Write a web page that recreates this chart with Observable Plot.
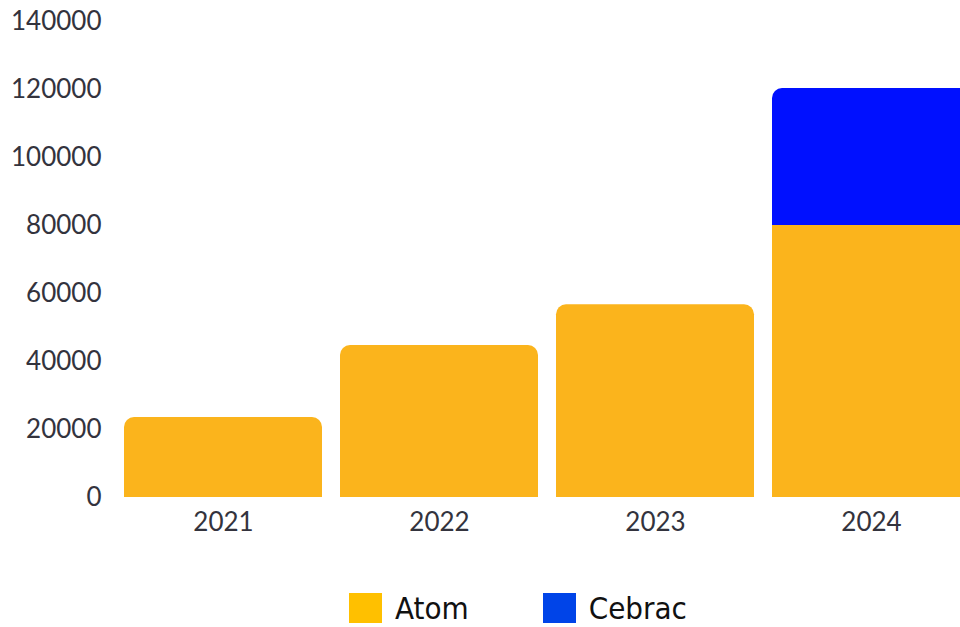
<!DOCTYPE html>
<html>
<head>
<meta charset="utf-8">
<script src="https://cdn.jsdelivr.net/npm/d3@7"></script>
<script src="https://cdn.jsdelivr.net/npm/@observablehq/plot@0.6"></script>
<style>
  html, body { margin: 0; padding: 0; background: #fff; overflow: hidden; width: 960px; height: 627px; }
  #chart { width: 960px; overflow: hidden; }
  #chart svg { display: block; max-width: none !important; }
  .legend { display: flex; align-items: center; margin-left: 349px; margin-top: 30px;
    font-family: "DejaVu Sans Condensed", "DejaVu Sans", sans-serif; font-size: 31px; color: #111; }
  .legend .item { display: flex; align-items: center; }
  .legend .sw { width: 33px; height: 30px; margin-right: 13px; }
</style>
</head>
<body>
<div id="chart"></div>
<div class="legend" id="legend"></div>
<script>
const years = ["2021", "2022", "2023", "2024"];
const seriesNames = ["Atom", "Cebrac"];
const atom = [23500, 44700, 56700, 80000];
const cebrac = [0, 0, 0, 40300];
const yTicks = [0, 20000, 40000, 60000, 80000, 100000, 120000, 140000];
const barColors = ["#FBB41C", "#0010FF"];
const legendColors = ["#FFC000", "#0044E8"];

// build stacked rows
const rows = [];
years.forEach((yr, i) => {
  let base = 0;
  const vals = [atom[i], cebrac[i]];
  const last = vals.reduce((acc, v, k) => (v > 0 ? k : acc), -1);
  vals.forEach((v, k) => {
    if (v <= 0) return;
    rows.push({year: yr, series: seriesNames[k], y1: base, y2: base + v, mid: base + v / 2, top: k === last});
    base += v;
  });
});

const chart = Plot.plot({
  width: 990,
  height: 560,
  marginLeft: 114,
  marginRight: 9,
  marginTop: 21,
  marginBottom: 63,
  style: {fontFamily: "Lato, sans-serif", fontSize: "26px", color: "#33333d", background: "#fff", maxWidth: "none"},
  x: {domain: years, type: "band", paddingInner: 0.083, paddingOuter: 0.04, round: true, label: null, tickSize: 0, tickPadding: 15},
  y: {domain: [0, 140000], ticks: yTicks, tickFormat: d => String(d), label: null, tickSize: 0, tickPadding: 13},
  color: {domain: seriesNames, range: barColors},
  marks: [
    // top segments: rounded
    Plot.barY(rows.filter(d => d.top), {x: "year", y1: "y1", y2: "y2", fill: "series", rx: 10}),
    // square off bottom corners of rounded segments
    Plot.barY(rows.filter(d => d.top), {x: "year", y1: "y1", y2: "mid", fill: "series", shapeRendering: "crispEdges"}),
    // non-top segments: square
    Plot.barY(rows.filter(d => !d.top), {x: "year", y1: "y1", y2: "y2", fill: "series", shapeRendering: "crispEdges"})
  ]
});
document.getElementById("chart").appendChild(chart);

const legend = document.getElementById("legend");
seriesNames.forEach((name, i) => {
  const item = document.createElement("div");
  item.className = "item";
  item.style.marginRight = i === 0 ? "74px" : "0";
  const sw = document.createElement("div");
  sw.className = "sw";
  sw.style.background = legendColors[i];
  const lab = document.createElement("span");
  lab.textContent = name;
  item.appendChild(sw);
  item.appendChild(lab);
  legend.appendChild(item);
});
</script>
</body>
</html>
